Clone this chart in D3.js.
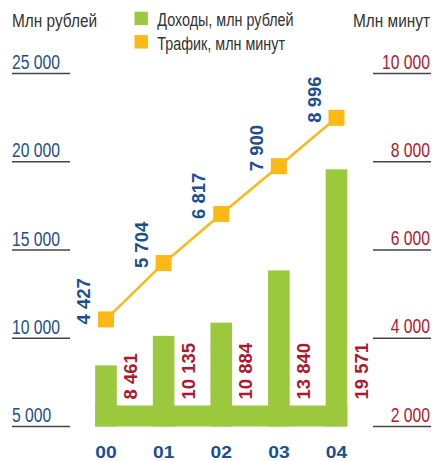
<!DOCTYPE html>
<html>
<head>
<meta charset="utf-8">
<script src="https://cdn.jsdelivr.net/npm/d3@7"></script>
<style>
  body { margin: 0; background: #fff; }
  svg { display: block; }
  .narrow { font-family: "Liberation Sans", Arial, sans-serif; }
  .bold { font-family: "Liberation Sans", Arial, sans-serif; font-weight: bold; }
</style>
</head>
<body>
<svg id="chart"></svg>
<script>
// Data
const years = ["00", "01", "02", "03", "04"];
const revenue = [8461, 10135, 10884, 13840, 19571];   // млн рублей
const traffic = [4427, 5704, 6817, 7900, 8996];       // млн минут
const leftTicks = [5000, 10000, 15000, 20000, 25000];
const rightTicks = [2000, 4000, 6000, 8000, 10000];

const width = 434, height = 461;
const green = "#9bc83c", orange = "#fcb814", blue = "#1b4f93", red = "#b2182b", grey = "#333";

const svg = d3.select("#chart").attr("width", width).attr("height", height);

const fmt = d3.formatLocale({ decimal: ",", thousands: " ", grouping: [3], currency: ["", ""] }).format(",d");

// condensed text: no narrow font installed, so squeeze horizontally
function narrowText(g, x, y, txt, size, sx, fill, anchor) {
  return g.append("text").attr("class", "narrow")
    .attr("transform", `translate(${x},${y}) scale(${sx},1)`)
    .attr("text-anchor", anchor || "start")
    .attr("font-size", size).attr("fill", fill).text(txt);
}

// Scales
const x = d3.scalePoint().domain(years).range([106, 336.5]);
const yLeft = d3.scaleLinear().domain([5000, 25000]).range([426.5, 73.5]);
const yRight = d3.scaleLinear().domain([2000, 10000]).range([426.5, 73.5]);
const barW = 21.6;

// Headers
narrowText(svg, 12, 27, "Млн рублей", 17.5, 0.88, grey);
narrowText(svg, 430, 27, "Млн минут", 17.5, 0.88, grey, "end");

// Legend
const legend = [
  { label: "Доходы, млн рублей", color: green },
  { label: "Трафик, млн минут", color: orange }
];
const lg = svg.append("g").attr("transform", "translate(134.5,11.7)");
legend.forEach((d, i) => {
  lg.append("rect").attr("x", 0).attr("y", i * 23.4).attr("width", 13.4).attr("height", 13.4).attr("fill", d.color);
  narrowText(lg, 22.8, i * 23.4 + 14.6, d.label, 17.5, 0.82, grey);
});

// Left axis ticks
const la = svg.append("g");
leftTicks.forEach(t => {
  la.append("line").attr("x1", 12).attr("x2", 70).attr("y1", yLeft(t)).attr("y2", yLeft(t))
    .attr("stroke", "#444").attr("stroke-width", 1.4);
  narrowText(la, 12, yLeft(t) - 4.5, fmt(t), 19.5, 0.805, blue);
});

// Right axis ticks
const ra = svg.append("g");
rightTicks.forEach(t => {
  ra.append("line").attr("x1", 373).attr("x2", 431).attr("y1", yRight(t)).attr("y2", yRight(t))
    .attr("stroke", "#444").attr("stroke-width", 1.4);
  narrowText(ra, 430, yRight(t) - 5, fmt(t), 19.5, 0.805, red, "end");
});

// Base band joining the bars
const base = yLeft.range()[0];
svg.append("rect")
  .attr("x", x(years[0]) - barW / 2)
  .attr("width", x(years[years.length - 1]) - x(years[0]) + barW)
  .attr("y", base - 21).attr("height", 21)
  .attr("fill", green);

// Bars
svg.append("g").selectAll("rect").data(revenue).join("rect")
  .attr("x", (d, i) => x(years[i]) - barW / 2)
  .attr("width", barW)
  .attr("y", d => yLeft(d))
  .attr("height", d => base - yLeft(d))
  .attr("fill", green);

// Revenue labels
svg.append("g").selectAll("text").data(revenue).join("text")
  .attr("class", "bold")
  .attr("transform", (d, i) => `translate(${x(years[i]) + 31},${base - 27}) rotate(-90)`)
  .attr("font-size", 18.5).attr("fill", red)
  .text(d => fmt(d));

// Traffic line
const line = d3.line().x((d, i) => x(years[i])).y(d => yRight(d));
svg.append("path").datum(traffic).attr("d", line)
  .attr("fill", "none").attr("stroke", orange).attr("stroke-width", 2.5);

const sq = 16;
svg.append("g").selectAll("rect").data(traffic).join("rect")
  .attr("x", (d, i) => x(years[i]) - sq / 2)
  .attr("y", d => yRight(d) - sq / 2)
  .attr("width", sq).attr("height", sq)
  .attr("fill", orange);

// Traffic labels
svg.append("g").selectAll("text").data(traffic).join("text")
  .attr("class", "bold")
  .attr("transform", (d, i) => `translate(${x(years[i]) - 16},${yRight(d) + 5}) rotate(-90)`)
  .attr("font-size", 18.5).attr("fill", blue)
  .text(d => fmt(d));

// Category labels
svg.append("g").selectAll("text").data(years).join("text")
  .attr("class", "bold")
  .attr("transform", d => `translate(${x(d)},458.3) scale(1.18,1)`)
  .attr("text-anchor", "middle").attr("font-size", 16.3)
  .attr("fill", blue).text(d => d);
</script>
</body>
</html>
